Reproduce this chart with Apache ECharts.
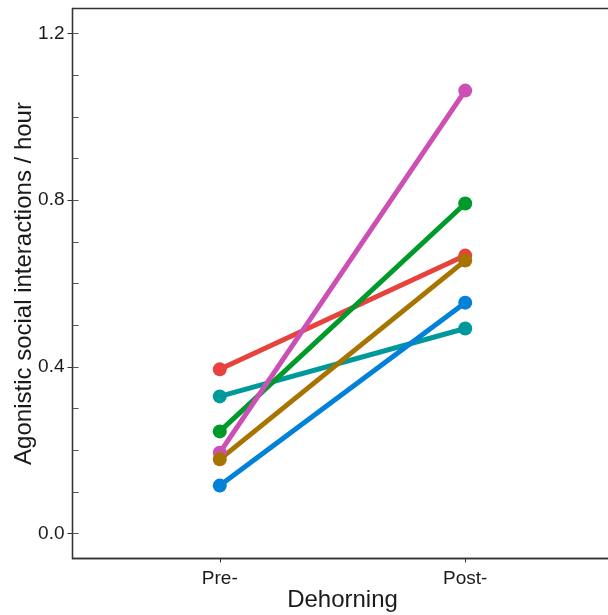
<!DOCTYPE html>
<html>
<head>
<meta charset="utf-8">
<script src="https://cdn.jsdelivr.net/npm/echarts@6/dist/echarts.min.js"></script>
<style>
  html, body { margin: 0; padding: 0; background: #fff; }
  #chart { width: 608px; height: 615px; }
</style>
</head>
<body>
<div id="chart"></div>
<script>
// categories on the x axis (placed at 1 and 2)
var periods = ['Pre-', 'Post-'];
var periodPos = [1, 2];

// one series per animal: [pre, post]
var redVals = [0.394, 0.667];
var tealVals = [0.329, 0.492];
var greenVals = [0.245, 0.792];
var magentaVals = [0.194, 1.063];
var brownVals = [0.178, 0.655];
var blueVals = [0.115, 0.554];

var yTicks = [0, 0.4, 0.8, 1.2];
var yMinorTicks = [0.1, 0.2, 0.3, 0.5, 0.6, 0.7, 0.9, 1.0, 1.1];

var font = 'Liberation Sans, Arial, sans-serif';

function pts(vals) {
  return vals.map(function (v, i) { return [periodPos[i], v]; });
}

function line(name, vals, color) {
  return {
    name: name,
    type: 'line',
    data: pts(vals),
    symbol: 'circle',
    symbolSize: 14,
    itemStyle: { color: color },
    lineStyle: { color: color, width: 5 },
    animation: false
  };
}

var myChart = echarts.init(document.getElementById('chart'));
var option = {
  backgroundColor: '#fff',
  grid: {
    left: 72.5, top: 8.5, width: 540, height: 550,
    outerBoundsMode: 'none',
    show: true, borderColor: '#333', borderWidth: 1.3
  },
  xAxis: {
    type: 'value', min: 0.4, max: 2.6,
    name: 'Dehorning', nameLocation: 'middle', nameGap: 30, nameMoveOverlap: false,
    nameTextStyle: { fontFamily: font, fontSize: 24, color: '#1a1a1a' },
    splitLine: { show: false },
    axisLine: { show: true, onZero: false, lineStyle: { color: '#333', width: 1.3 } },
    axisTick: { show: true, length: 4, customValues: periodPos, lineStyle: { color: '#333' } },
    axisLabel: {
      customValues: periodPos, margin: 11,
      fontFamily: font, fontSize: 19, color: '#1a1a1a',
      formatter: function (v) { return periods[periodPos.indexOf(v)]; }
    }
  },
  yAxis: [{
    type: 'value', min: -0.06, max: 1.26,
    name: 'Agonistic social interactions / hour', nameLocation: 'middle', nameGap: 36, nameMoveOverlap: false,
    nameTextStyle: { fontFamily: font, fontSize: 24, color: '#1a1a1a' },
    splitLine: { show: false },
    axisLine: { show: true, onZero: false, lineStyle: { color: '#333', width: 1.3 } },
    axisTick: { show: true, length: 5, customValues: yTicks, lineStyle: { color: '#333' } },
    axisLabel: {
      customValues: yTicks, margin: 8,
      fontFamily: font, fontSize: 19, color: '#1a1a1a',
      formatter: function (v) { return v.toFixed(1); }
    }
  }, {
    type: 'value', min: -0.06, max: 1.26, position: 'left',
    splitLine: { show: false },
    axisLine: { show: false },
    axisLabel: { show: false },
    axisTick: { show: true, inside: true, length: 6, customValues: yTicks.concat(yMinorTicks), lineStyle: { color: '#555' } }
  }],
  series: [
    line('red', redVals, '#e8423f'),
    line('teal', tealVals, '#00999b'),
    line('green', greenVals, '#009a2b'),
    line('magenta', magentaVals, '#cc4fb4'),
    line('brown', brownVals, '#a77400'),
    line('blue', blueVals, '#0281d9')
  ]
};
myChart.setOption(option);
</script>
</body>
</html>
